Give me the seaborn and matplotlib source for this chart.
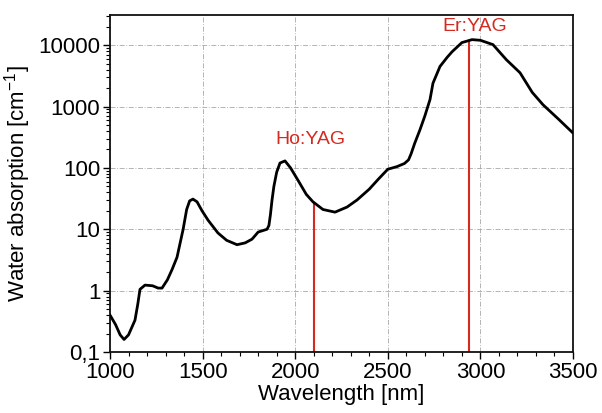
import numpy as np
import pandas as pd
import matplotlib
matplotlib.use("Agg")
import matplotlib.pyplot as plt
from matplotlib.ticker import FixedLocator, MultipleLocator, LogLocator, NullFormatter
import seaborn as sns

# Absorption spectrum of water (wavelength in nm, coefficient in cm^-1)
wavelength = [1000, 1030, 1055, 1076, 1100, 1135, 1150, 1162, 1189, 1230, 1260, 1281,
              1310, 1335, 1362, 1395, 1414, 1430, 1448, 1470, 1497, 1530, 1583, 1630,
              1686, 1730, 1767, 1800, 1848, 1858, 1866, 1875, 1885, 1900, 1918, 1945,
              1975, 2015, 2060, 2096, 2150, 2215, 2280, 2334, 2400, 2450, 2500, 2550,
              2590, 2612, 2626, 2645, 2674, 2700, 2728, 2744, 2782, 2820, 2847, 2900,
              2955, 3000, 3068, 3140, 3214, 3280, 3338, 3420, 3500]
absorption = [0.40, 0.28, 0.19, 0.16, 0.19, 0.33, 0.6, 1.05, 1.23, 1.2, 1.1, 1.1,
              1.5, 2.2, 3.5, 10, 21, 29, 31, 28, 20, 14, 8.7, 6.6,
              5.6, 6.0, 6.9, 9.0, 10, 11.5, 17, 30, 50, 85, 120, 130,
              100, 63, 37, 28, 21, 19, 23, 30, 45, 66, 95, 105,
              118, 135, 170, 250, 420, 700, 1300, 2400, 4500, 6300, 7800, 11000,
              12300, 12000, 10200, 5800, 3550, 1700, 1070, 630, 370]

# Laser lines
laser_names = ["Ho:YAG", "Er:YAG"]
laser_wavelengths = [2100, 2940]

y_ticks = [0.1, 1, 10, 100, 1000, 10000]
y_tick_labels = ["0,1", "1", "10", "100", "1000", "10000"]
x_ticks = [1000, 1500, 2000, 2500, 3000, 3500]

sns.set_theme(style="ticks")
plt.rcParams["font.family"] = ["Liberation Sans", "DejaVu Sans"]
plt.rcParams["text.color"] = "black"
plt.rcParams["axes.labelcolor"] = "black"

df = pd.DataFrame({"Wavelength": wavelength, "Absorption": absorption})

fig = plt.figure(figsize=(6.02, 4.13), dpi=100)
ax = fig.add_axes([0.1827, 0.1477, 0.9518 - 0.1827, 0.9637 - 0.1477])

ax.set_yscale("log")
ax.set_xlim(1000, 3500)
ax.set_ylim(0.1, 31000)

ax.grid(True, which="major", color="#a8a8a8", linestyle=(0, (6, 2, 1, 2)), linewidth=0.6)
ax.set_axisbelow(True)

red = "#d42a20"

# Vertical laser lines from the axis bottom up to the absorption curve
log_abs = np.log10(absorption)
for wl in laser_wavelengths:
    top = 10 ** np.interp(wl, wavelength, log_abs)
    ax.vlines(wl, 0.1, top, color=red, linewidth=1.5, zorder=2)

sns.lineplot(data=df, x="Wavelength", y="Absorption", ax=ax, color="black",
             linewidth=2.0, zorder=3)

ax.text(laser_wavelengths[0] - 15, 290, laser_names[0], color=red, fontsize=14,
        ha="center", va="center")
ax.text(laser_wavelengths[1] + 30, 20000, laser_names[1], color=red, fontsize=14,
        ha="center", va="center")

ax.xaxis.set_major_locator(FixedLocator(x_ticks))
ax.xaxis.set_minor_locator(MultipleLocator(100))
ax.yaxis.set_major_locator(FixedLocator(y_ticks))
ax.set_yticklabels(y_tick_labels)
ax.yaxis.set_minor_locator(LogLocator(base=10, subs=np.arange(2, 10)))
ax.yaxis.set_minor_formatter(NullFormatter())

ax.tick_params(axis="both", which="major", direction="out", length=5, width=1.0,
               labelsize=16, colors="black", pad=2)
ax.tick_params(axis="both", which="minor", direction="out", length=3, width=0.8, colors="black")

for s in ax.spines.values():
    s.set_color("#111111")
    s.set_linewidth(1.3)

ax.set_xlabel("Wavelength [nm]", fontsize=16, labelpad=1)
ax.set_ylabel("Water absorption [cm$^{\\mathregular{-1}}$]", fontsize=16, labelpad=4)

fig.savefig("out.png", dpi=100, facecolor="white")
